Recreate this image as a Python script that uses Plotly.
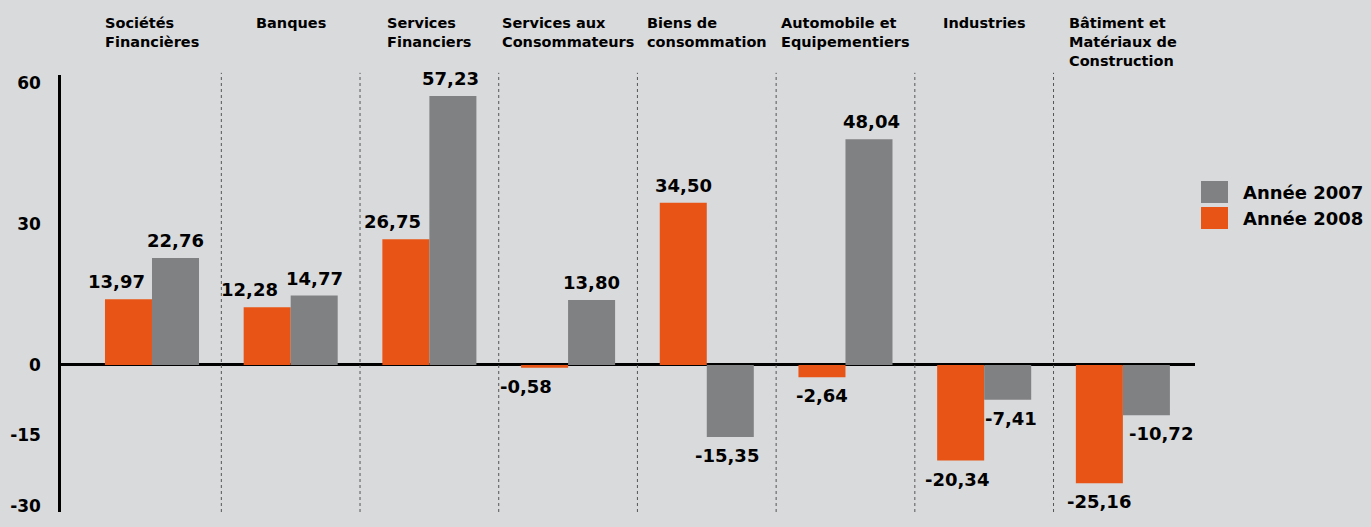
import plotly.graph_objects as go

# Secteurs (libellés sur plusieurs lignes comme dans l'original)
categories = [
    'Sociétés<br>Financières',
    'Banques',
    'Services<br>Financiers',
    'Services aux<br>Consommateurs',
    'Biens de<br>consommation',
    'Automobile et<br>Equipementiers',
    'Industries',
    'Bâtiment et<br>Matériaux de<br>Construction',
]
valeurs_2008 = [13.97, 12.28, 26.75, -0.58, 34.50, -2.64, -20.34, -25.16]
valeurs_2007 = [22.76, 14.77, 57.23, 13.80, -15.35, 48.04, -7.41, -10.72]
serie_2007 = 'Année 2007'
serie_2008 = 'Année 2008'
tick_vals = [60, 30, 0, -15, -30]
tick_text = ['60', '30', '0', '-15', '-30']

ORANGE = '#E85415'
GRIS = '#808183'
FOND = '#D9DADC'
FONT_B = 'DejaVu Sans'

# petits décalages horizontaux (px) des étiquettes pour éviter les barres voisines
decal_2008 = [-12, -18, -13, -19, 0, 0, -4, 0]
decal_2007 = [0, 0, -2, 0, -3, 3, 3, 15]

BAR_W = 0.339
n = len(categories)
xs = list(range(n))

fig = go.Figure()
fig.add_trace(go.Bar(x=xs, y=valeurs_2008, name=serie_2008, marker_color=ORANGE,
                     marker_line_width=0, showlegend=False))
fig.add_trace(go.Bar(x=xs, y=valeurs_2007, name=serie_2007, marker_color=GRIS,
                     marker_line_width=0, showlegend=False))


def fmt(v):
    return f'{v:.2f}'.replace('.', ',')


# étiquettes de valeurs
for vals, sign, decal in ((valeurs_2008, -1, decal_2008), (valeurs_2007, 1, decal_2007)):
    for i, v in enumerate(vals):
        fig.add_annotation(
            x=i + sign * BAR_W / 2, y=v, xref='x', yref='y',
            text=fmt(v), showarrow=False,
            yanchor='bottom' if v >= 0 else 'top',
            yshift=5 if v >= 0 else -6, xshift=decal[i],
            font=dict(family=FONT_B, size=18, color='black', weight='bold'),
        )

# titres des secteurs en haut
for i, c in enumerate(categories):
    fig.add_annotation(
        x=i, y=1, xref='x', yref='paper', yanchor='top', yshift=62,
        text=c, showarrow=False, align='left', xanchor='center',
        font=dict(family=FONT_B, size=14.5, color='black', weight='bold'),
    )

# séparateurs pointillés entre secteurs
for i in range(n - 1):
    fig.add_shape(type='line', x0=i + 0.5, x1=i + 0.5, y0=0, y1=1.005,
                  xref='x', yref='paper',
                  line=dict(color='#555555', width=1, dash='dot'))

# légende dessinée à droite
leg = [(serie_2007, GRIS, 0.7574), (serie_2008, ORANGE, 0.6979)]
for name, col, ytop in leg:
    fig.add_shape(type='rect', xref='paper', yref='paper',
                  x0=1.0053, x1=1.0291, y0=ytop - 0.0503, y1=ytop,
                  fillcolor=col, line_width=0)
    fig.add_annotation(x=1.0406, y=ytop - 0.0252, xref='paper', yref='paper',
                       text=name, showarrow=False, xanchor='left', yanchor='middle',
                       font=dict(family=FONT_B, size=18, color='black', weight='bold'))

fig.update_layout(
    width=1371, height=527,
    paper_bgcolor=FOND, plot_bgcolor=FOND,
    margin=dict(l=61, r=176, t=75, b=15),
    barmode='group', bargap=0.322, bargroupgap=0,
    showlegend=False,
)
fig.update_xaxes(range=[-0.656, 7.52], showgrid=False, zeroline=False, automargin=False,
                 showticklabels=False, showline=False, fixedrange=True)
fig.update_yaxes(range=[-31.3, 61.7], tickvals=tick_vals, ticktext=tick_text, ticks='',
                 automargin=False, showgrid=False,
                 zeroline=True, zerolinecolor='black', zerolinewidth=2.5,
                 showline=True, linecolor='black', linewidth=2.5,
                 ticklabelstandoff=14,
                 tickfont=dict(family=FONT_B, size=17, color='black', weight='bold'))

# pas de marge blanche autour de la figure
page_js = ("document.body.style.margin='0';"
           "document.body.style.overflow='hidden';"
           "document.body.style.background='" + FOND + "';")
fig.write_html('out.html', post_script=page_js, config={'displayModeBar': False})
